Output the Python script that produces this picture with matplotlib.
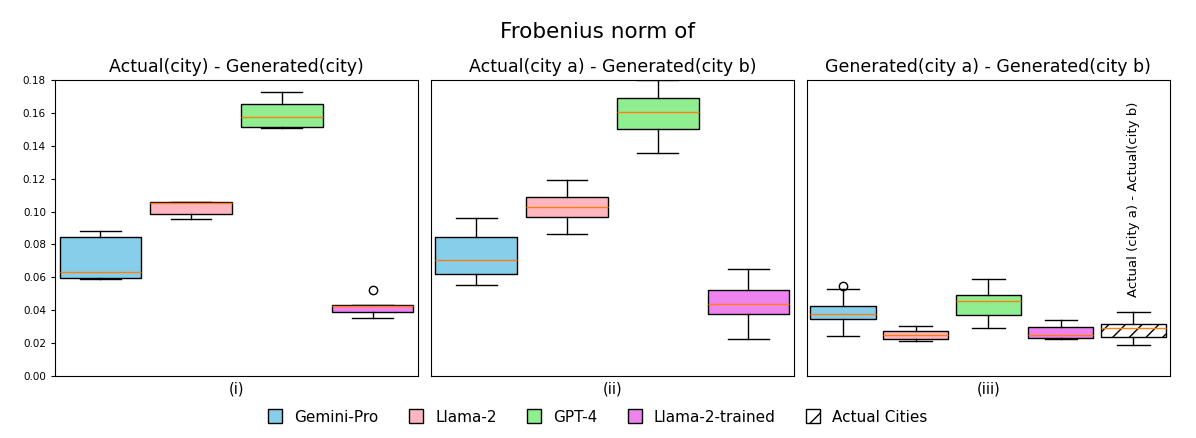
import matplotlib
matplotlib.use("Agg")
import matplotlib.pyplot as plt
from matplotlib.patches import Patch

# -------------------
# DATA
# -------------------
MODELS = ["Gemini-Pro", "Llama-2", "GPT-4", "Llama-2-trained"]
COLORS = ["skyblue", "lightpink", "lightgreen", "violet"]

PANEL_TITLES = ["Actual(city) - Generated(city)",
                "Actual(city a) - Generated(city b)",
                "Generated(city a) - Generated(city b)"]
PANEL_LABELS = ["(i)", "(ii)", "(iii)"]
Y_TICKS = [0.00, 0.02, 0.04, 0.06, 0.08, 0.10, 0.12, 0.14, 0.16, 0.18]

# each box: (whislo, q1, median, q3, whishi, outliers)
panel1 = [
    (0.0592, 0.0596, 0.0630, 0.0843, 0.0882, []),
    (0.0957, 0.0987, 0.1052, 0.1056, 0.1056, []),
    (0.1506, 0.1517, 0.1574, 0.1653, 0.1726, []),
    (0.0351, 0.0389, 0.0426, 0.0430, 0.0432, [0.0521]),
]
panel2 = [
    (0.0553, 0.0622, 0.0706, 0.0843, 0.0959, []),
    (0.0864, 0.0969, 0.1030, 0.1091, 0.1192, []),
    (0.1358, 0.1500, 0.1604, 0.1689, 0.1800, []),
    (0.0227, 0.0377, 0.0440, 0.0523, 0.0649, []),
]
panel3 = [
    (0.0245, 0.0345, 0.0375, 0.0426, 0.0529, [0.0549]),
    (0.0213, 0.0225, 0.0247, 0.0270, 0.0302, []),
    (0.0290, 0.0369, 0.0454, 0.0491, 0.0592, []),
    (0.0227, 0.0231, 0.0249, 0.0296, 0.0341, []),
]
actual_cities = (0.0189, 0.0235, 0.0294, 0.0316, 0.0387, [])


def to_stats(rows):
    stats = []
    for lo, q1, med, q3, hi, fl in rows:
        stats.append(dict(whislo=lo, q1=q1, med=med, q3=q3, whishi=hi, fliers=fl))
    return stats


fig, axes = plt.subplots(1, 3, figsize=(11.96, 4.38), dpi=100, sharey=True)
fig.subplots_adjust(left=0.046, right=0.978, top=0.817, bottom=0.142, wspace=0.036)

for i, (ax, rows) in enumerate(zip(axes, [panel1, panel2, panel3])):
    stats = to_stats(rows)
    colors = list(COLORS)
    if i == 2:
        stats += to_stats([actual_cities])
        colors.append("white")
    bp = ax.bxp(stats, positions=range(1, len(stats) + 1), widths=0.9,
                patch_artist=True, showfliers=True)
    for j, (box, c) in enumerate(zip(bp["boxes"], colors)):
        box.set_facecolor(c)
        box.set_edgecolor("black")
        if i == 2 and j == 4:
            box.set_hatch("//")
    for med in bp["medians"]:
        med.set_color("#ff7f0e")
    ax.set_xlim(0.5, len(stats) + 0.5)
    ax.set_xticks([])
    ax.set_title(PANEL_TITLES[i], fontsize=12.5)
    ax.set_xlabel(PANEL_LABELS[i], fontsize=10.5)

axes[0].set_ylim(0, 0.18)
axes[0].set_yticks(Y_TICKS)
axes[0].tick_params(axis="y", labelsize=7.5, length=3, width=0.8)
for ax in axes[1:]:
    ax.tick_params(axis="y", left=False)

axes[2].text(5, 0.048, "Actual (city a) - Actual(city b)", rotation=90,
             ha="center", va="bottom", fontsize=9.5)

fig.suptitle("Frobenius norm of", fontsize=15.5, y=0.95)

handles = [Patch(facecolor=c, edgecolor="black", label=m) for m, c in zip(MODELS, COLORS)]
handles.append(Patch(facecolor="white", edgecolor="black", hatch="/", label="Actual Cities"))
fig.legend(handles=handles, loc="center", bbox_to_anchor=(0.5, 0.048), ncol=5,
           frameon=False, fontsize=11, handlelength=0.9, handleheight=1.0,
           columnspacing=2.0)

fig.savefig("out.png", dpi=100)
